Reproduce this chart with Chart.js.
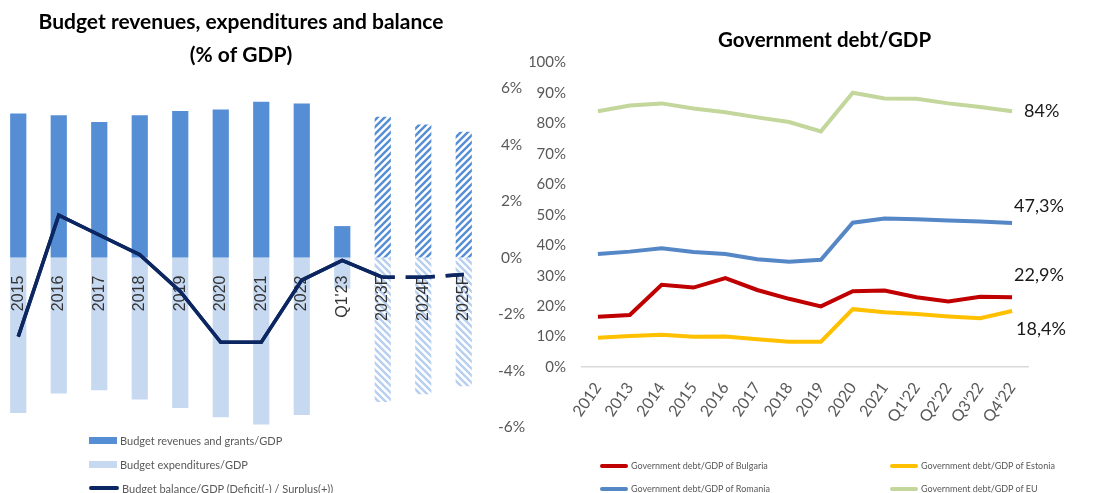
<!DOCTYPE html>
<html>
<head>
<meta charset="utf-8">
<script src="https://cdn.jsdelivr.net/npm/chart.js@4.4.0/dist/chart.umd.min.js"></script>
<style>
  html, body { margin: 0; padding: 0; background: #fff; }
  body { width: 1119px; height: 493px; position: relative; overflow: hidden;
         font-family: Lato, 'Liberation Sans', sans-serif; }
  #budgetBox { position: absolute; left: -2px; top: 0; width: 532px; height: 493px; }
  #debtBox { position: absolute; left: 530px; top: 0; width: 589px; height: 493px; }
  .lg { position: absolute; white-space: nowrap; color: #595959; display: flex; align-items: center; }
  .lg span.sw { display: inline-block; margin-right: 3px; }
  .lg.small { font-size: 9px; }
  .lg.mid { font-size: 11px; }
</style>
</head>
<body>
<div id="budgetBox"><canvas id="budget"></canvas></div>
<div id="debtBox"><canvas id="debt"></canvas></div>
<div id="budgetLegend"></div>
<div id="debtLegend"></div>
<script>
// ---- budget data (% of GDP) ----
const periods = ['2015', '2016', '2017', '2018', '2019', '2020', '2021', '2022', "Q1'23", '2023F', '2024F', '2025F'];
const revenues = [35.7, 35.3, 33.6, 35.3, 36.3, 36.7, 38.6, 38.2, 7.8, 34.9, 33.0, 31.2];
const expenditures = [38.5, 33.7, 32.9, 35.2, 37.3, 39.6, 41.4, 39.0, 7.7, 35.8, 33.9, 31.9];
const balance = [-2.8, 1.5, 0.8, 0.1, -1.2, -3.0, -3.0, -0.8, -0.1, -0.7, -0.7, -0.6];
const firstForecast = 9;

// ---- government debt data (% of GDP) ----
const debtPeriods = ['2012', '2013', '2014', '2015', '2016', '2017', '2018', '2019', '2020', '2021', "Q1'22", "Q2'22", "Q3'22", "Q4'22"];
const debtBulgaria = [16.5, 17.1, 27.0, 26.1, 29.2, 25.3, 22.4, 19.9, 24.9, 25.1, 22.9, 21.5, 23.1, 22.9];
const debtEstonia = [9.6, 10.2, 10.6, 9.9, 10.0, 9.1, 8.3, 8.3, 19.0, 18.0, 17.4, 16.6, 16.0, 18.4];
const debtRomania = [37.1, 37.9, 39.0, 37.8, 37.1, 35.4, 34.6, 35.2, 47.4, 48.8, 48.5, 48.1, 47.8, 47.3];
const debtEU = [84.0, 85.9, 86.6, 84.9, 83.7, 82.0, 80.5, 77.4, 90.1, 88.2, 88.1, 86.6, 85.4, 84];

const FONT = "Lato, 'Liberation Sans', sans-serif";
const GREY = '#595959';

const REV_BLUE = '#558ed5';
const EXP_BLUE = '#c6d9f1';
const NAVY = '#0b2660';

// diagonal hatch used for the forecast bars
function hatch(color, forward) {
  const s = 7;
  const c = document.createElement('canvas');
  c.width = s; c.height = s;
  const g = c.getContext('2d');
  g.fillStyle = '#fff';
  g.fillRect(0, 0, s, s);
  g.strokeStyle = color;
  g.lineWidth = 2.4;
  g.beginPath();
  if (forward) {
    g.moveTo(-1, s + 1); g.lineTo(s + 1, -1);
    g.moveTo(-1, 1); g.lineTo(1, -1);
    g.moveTo(s - 1, s + 1); g.lineTo(s + 1, s - 1);
  } else {
    g.moveTo(-1, -1); g.lineTo(s + 1, s + 1);
    g.moveTo(s - 1, -1); g.lineTo(s + 1, 1);
    g.moveTo(-1, s - 1); g.lineTo(1, s + 1);
  }
  g.stroke();
  return g.createPattern(c, 'repeat');
}

const revHatch = hatch(REV_BLUE, true);
const expHatch = hatch('#b7cff0', false);

const revColors = periods.map((p, i) => i >= firstForecast ? revHatch : REV_BLUE);
const expColors = periods.map((p, i) => i >= firstForecast ? expHatch : EXP_BLUE);

// redraw the balance line so it sits above the category labels
const lineOnTop = {
  id: 'lineOnTop',
  afterDraw(chart) {
    chart.getDatasetMeta(0).controller.draw();
  }
};

new Chart(document.getElementById('budget'), {
  type: 'bar',
  data: {
    labels: periods,
    datasets: [
      {
        type: 'line',
        label: 'Budget balance/GDP (Deficit(-) / Surplus(+))',
        data: balance,
        yAxisID: 'y',
        borderColor: NAVY,
        backgroundColor: NAVY,
        borderWidth: 3.5,
        pointRadius: 0,
        tension: 0,
        order: 0,
        segment: {
          borderDash: ctx => ctx.p0DataIndex >= firstForecast ? [29, 11] : undefined,
          borderDashOffset: ctx => ctx.p0DataIndex >= firstForecast ? 17 : 0
        }
      },
      {
        label: 'Budget revenues and grants/GDP',
        data: revenues,
        yAxisID: 'yBars',
        backgroundColor: revColors,
        barPercentage: 0.4,
        categoryPercentage: 1,
        order: 1
      },
      {
        label: 'Budget expenditures/GDP',
        data: expenditures.map(v => -v),
        yAxisID: 'yBars',
        backgroundColor: expColors,
        barPercentage: 0.4,
        categoryPercentage: 1,
        order: 2
      }
    ]
  },
  options: {
    responsive: true,
    maintainAspectRatio: false,
    animation: false,
    layout: { padding: { left: 0, right: 0, top: 0, bottom: 66 } },
    plugins: {
      legend: { display: false },
      tooltip: { enabled: false },
      title: {
        display: true,
        fullSize: false,
        text: ['Budget revenues, expenditures and balance', '(% of GDP)'],
        color: '#000',
        font: { family: FONT, size: 21, weight: 'bold', lineHeight: 1.55 },
        padding: { top: 6, bottom: 17 }
      }
    },
    scales: {
      x: {
        stacked: true,
        position: { y: 0 },
        offset: true,
        grid: { display: false },
        border: { display: false },
        ticks: {
          z: 1,
          color: '#333',
          font: { family: 'Liberation Sans', size: 16 },
          minRotation: 90,
          maxRotation: 90,
          padding: 10,
          autoSkip: false
        },
        afterFit(s) { s.paddingLeft = 0; s.paddingRight = 0; }
      },
      yBars: {
        display: false,
        stacked: true,
        min: -42,
        max: 42
      },
      y: {
        position: 'right',
        min: -6,
        max: 6,
        grid: { display: false },
        border: { display: false },
        ticks: {
          stepSize: 2,
          color: GREY,
          padding: 6,
          crossAlign: 'center',
          font: { family: FONT, size: 15.5 },
          callback: v => v + '%'
        },
        afterFit(s) { s.width = 46; }
      }
    }
  },
  plugins: [lineOnTop]
});

// value labels at the end of each debt series
const endLabels = {
  id: 'endLabels',
  afterDatasetsDraw(chart, args, opts) {
    const ctx = chart.ctx;
    ctx.save();
    ctx.font = '18px ' + FONT;
    ctx.fillStyle = '#1a1a1a';
    ctx.textBaseline = 'middle';
    ctx.textAlign = 'left';
    chart.data.datasets.forEach((ds, i) => {
      const meta = chart.getDatasetMeta(i);
      const last = meta.data[meta.data.length - 1];
      const v = ds.data[ds.data.length - 1];
      const off = opts.offsets[i];
      ctx.fillText(String(v).replace('.', ',') + '%', last.x + off[0], last.y + off[1]);
    });
    ctx.restore();
  }
};

const debtSeries = [
  { label: 'Government debt/GDP of Bulgaria', data: debtBulgaria, color: '#c00000' },
  { label: 'Government debt/GDP of Estonia', data: debtEstonia, color: '#ffc000' },
  { label: 'Government debt/GDP of Romania', data: debtRomania, color: '#5587c6' },
  { label: 'Government debt/GDP of EU', data: debtEU, color: '#c3d69b' }
];

new Chart(document.getElementById('debt'), {
  type: 'line',
  data: {
    labels: debtPeriods,
    datasets: debtSeries.map(s => ({
      label: s.label,
      data: s.data,
      borderColor: s.color,
      backgroundColor: s.color,
      borderWidth: 4,
      pointRadius: 0,
      tension: 0
    }))
  },
  options: {
    responsive: true,
    maintainAspectRatio: false,
    animation: false,
    layout: { padding: { left: 0, right: 0, top: 0, bottom: 66 } },
    plugins: {
      legend: { display: false },
      tooltip: { enabled: false },
      title: {
        display: true,
        text: 'Government debt/GDP',
        color: '#000',
        font: { family: FONT, size: 20.5, weight: 'bold', lineHeight: 1.2 },
        padding: { top: 28, bottom: 10 }
      },
      endLabels: { offsets: [[2, -22], [4, 18], [2, -17], [12, 0]] }
    },
    scales: {
      x: {
        offset: true,
        grid: { display: false },
        border: { display: true, color: '#d9d9d9', width: 1.5 },
        ticks: {
          color: GREY,
          font: { family: FONT, size: 16 },
          minRotation: 55,
          maxRotation: 55,
          padding: 4,
          autoSkip: false
        },
        afterFit(s) { s.height = 60; }
      },
      y: {
        min: 0,
        max: 100,
        grid: { display: false },
        border: { display: false },
        ticks: {
          stepSize: 10,
          color: GREY,
          padding: 8,
          font: { family: FONT, size: 15 },
          callback: v => v + '%'
        },
        afterFit(s) { s.width = 52; }
      },
      // empty right-hand strip that leaves room for the end labels
      gutter: {
        position: 'right',
        grid: { display: false },
        border: { display: false },
        ticks: { display: false },
        afterFit(s) { s.width = 91; }
      }
    }
  },
  plugins: [endLabels]
});

// legends laid out in fixed rows and columns
function legendItem(parent, cls, x, y, sw, text) {
  const d = document.createElement('div');
  d.className = 'lg ' + cls;
  d.style.left = x + 'px';
  d.style.top = (y - 8) + 'px';
  d.style.height = '16px';
  const s = document.createElement('span');
  s.className = 'sw';
  s.style.width = sw.w + 'px';
  s.style.height = sw.h + 'px';
  s.style.background = sw.color;
  s.style.borderRadius = sw.round ? '2px' : '0';
  d.appendChild(s);
  d.appendChild(document.createTextNode(text));
  parent.appendChild(d);
}

const bl = document.getElementById('budgetLegend');
legendItem(bl, 'mid', 89, 440, { w: 28, h: 7, color: REV_BLUE }, 'Budget revenues and grants/GDP');
legendItem(bl, 'mid', 89, 464, { w: 28, h: 7, color: EXP_BLUE }, 'Budget expenditures/GDP');
legendItem(bl, 'mid', 89, 488, { w: 30, h: 3.5, color: NAVY, round: true }, 'Budget balance/GDP (Deficit(-) / Surplus(+))');

const dl = document.getElementById('debtLegend');
const cols = [600, 890];
const rows = [465.5, 488.5];
debtSeries.forEach((s, i) => {
  legendItem(dl, 'small', cols[i % 2], rows[Math.floor(i / 2)], { w: 28, h: 4, color: s.color, round: true }, s.label);
});
</script>
</body>
</html>
